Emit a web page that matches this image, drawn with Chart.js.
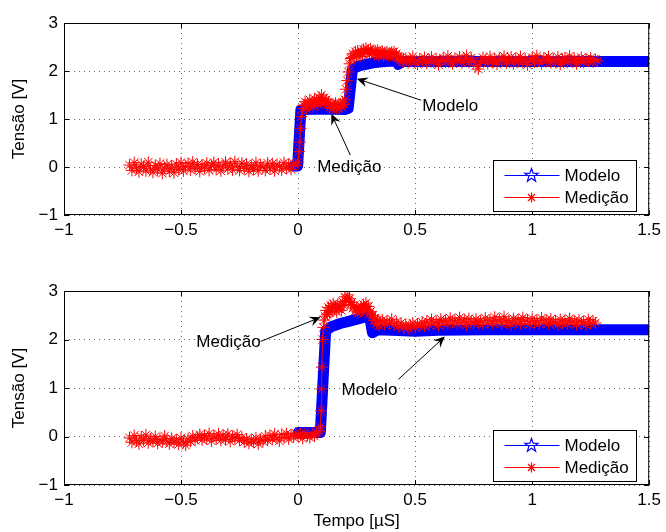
<!DOCTYPE html>
<html>
<head>
<meta charset="utf-8">
<script src="https://cdn.jsdelivr.net/npm/chart.js"></script>
<style>
  html, body { margin: 0; padding: 0; background: #fff; }
  #quadro { position: relative; width: 666px; height: 532px; }
  canvas { position: absolute; left: 0; }
  #topo { top: 0; }
  #baixo { top: 266px; }
</style>
</head>
<body>
<div id="quadro">
  <canvas id="topo" width="666" height="266" style="width:666px;height:266px"></canvas>
  <canvas id="baixo" width="666" height="266" style="width:666px;height:266px"></canvas>
</div>
<script>
// eixos
const ticksX = [-1, -0.5, 0, 0.5, 1, 1.5];
const ticksY = [-1, 0, 1, 2, 3];

// grafico de cima - modelo (azul)
const topoModeloX = [-0.02, -0.002, 0.012, 0.03, 0.10, 0.20, 0.214, 0.232, 0.25, 0.28, 0.32, 0.36, 0.41, 0.418, 0.428, 0.45, 0.6, 0.8, 1.0, 1.2, 1.5];
const topoModeloY = [0.02, 0.02, 1.19, 1.20, 1.21, 1.20, 1.22, 2.03, 2.09, 2.13, 2.17, 2.19, 2.21, 2.21, 2.14, 2.20, 2.20, 2.20, 2.20, 2.20, 2.20];

// grafico de cima - medicao (vermelho)
const topoMedicaoX = [
  -0.72,-0.71,-0.70,-0.69,-0.68,-0.67,-0.66,-0.65,-0.64,-0.63,
  -0.62,-0.61,-0.60,-0.59,-0.58,-0.57,-0.56,-0.55,-0.54,-0.53,
  -0.52,-0.51,-0.50,-0.49,-0.48,-0.47,-0.46,-0.45,-0.44,-0.43,
  -0.42,-0.41,-0.40,-0.39,-0.38,-0.37,-0.36,-0.35,-0.34,-0.33,
  -0.32,-0.31,-0.30,-0.29,-0.28,-0.27,-0.26,-0.25,-0.24,-0.23,
  -0.22,-0.21,-0.20,-0.19,-0.18,-0.17,-0.16,-0.15,-0.14,-0.13,
  -0.12,-0.11,-0.10,-0.09,-0.08,-0.07,-0.06,-0.05,-0.04,-0.03,
  -0.02,-0.01,
  0.000,0.004,0.007,0.010,0.014,0.020,
  0.025,0.030,0.035,0.040,0.045,0.050,0.055,0.060,0.065,0.070,0.075,0.080,0.085,0.090,0.095,0.100,0.105,0.110,
  0.115,0.120,0.125,0.130,0.135,0.140,0.145,0.150,0.155,0.160,0.165,0.170,0.175,0.180,0.185,0.190,0.195,
  0.200,0.205,0.210,0.215,0.220,0.225,
  0.230,0.235,0.240,0.245,0.250,0.255,0.260,0.265,0.270,0.275,0.280,0.285,0.290,0.295,0.300,0.305,0.310,0.315,
  0.320,0.325,0.330,0.335,0.340,0.345,0.350,0.355,0.360,0.365,0.370,0.375,0.380,0.385,0.390,0.395,0.400,0.405,
  0.410,0.415,0.420,0.425,0.430,0.435,0.440,0.445,0.450,
  0.46,0.47,0.48,0.49,0.50,0.51,0.52,0.53,0.54,0.55,
  0.56,0.57,0.58,0.59,0.60,0.61,0.62,0.63,0.64,0.65,
  0.66,0.67,0.68,0.69,0.70,0.71,0.72,0.73,0.74,0.75,
  0.76,0.77,0.78,0.79,0.80,0.81,0.82,0.83,0.84,0.85,
  0.86,0.87,0.88,0.89,0.90,0.91,0.92,0.93,0.94,0.95,
  0.96,0.97,0.98,0.99,1.00,1.01,1.02,1.03,1.04,1.05,
  1.06,1.07,1.08,1.09,1.10,1.11,1.12,1.13,1.14,1.15,
  1.16,1.17,1.18,1.19,1.20,1.21,1.22,1.23,1.24,1.25,
  1.26,1.27,1.28
];
const topoMedicaoY = [
  0.04,-0.07,0.09,-0.02,-0.10,0.06,0.01,-0.08,0.10,-0.04,
  -0.11,0.03,-0.06,0.07,-0.13,-0.02,0.05,-0.09,0.02,-0.12,
  0.06,-0.05,0.09,-0.08,0.01,0.07,-0.06,0.10,-0.03,0.05,
  -0.09,0.04,-0.02,0.08,-0.07,0.03,0.09,-0.05,0.06,-0.08,
  0.02,0.10,-0.04,0.07,-0.06,0.11,0.01,-0.07,0.08,-0.03,
  0.06,-0.09,0.03,-0.05,0.09,-0.08,0.04,0.00,-0.07,0.08,
  -0.04,0.07,-0.08,0.05,0.01,-0.06,0.09,-0.03,0.06,-0.05,
  0.08,0.03,
  0.10,0.32,0.52,0.80,1.05,1.22,
  1.28,1.36,1.22,1.33,1.27,1.40,1.30,1.35,1.26,1.42,1.33,1.38,1.30,1.45,1.36,1.50,1.38,1.44,
  1.34,1.40,1.30,1.35,1.24,1.31,1.22,1.30,1.25,1.33,1.23,1.29,1.22,1.32,1.26,1.35,1.30,
  1.40,1.62,1.80,1.98,2.15,2.26,
  2.28,2.36,2.30,2.40,2.33,2.42,2.35,2.30,2.41,2.36,2.45,2.38,2.47,2.39,2.44,2.36,2.46,2.38,
  2.42,2.34,2.41,2.36,2.43,2.33,2.39,2.35,2.41,2.32,2.38,2.34,2.40,2.31,2.37,2.33,2.39,2.35,
  2.40,2.32,2.36,2.27,2.30,2.22,2.27,2.20,2.25,
  2.26,2.17,2.24,2.30,2.19,2.14,2.25,2.21,2.28,2.16,
  2.23,2.29,2.18,2.25,2.13,2.22,2.27,2.19,2.31,2.20,
  2.15,2.26,2.22,2.29,2.17,2.24,2.32,2.18,2.27,2.21,
  2.12,2.04,2.20,2.28,2.23,2.16,2.30,2.19,2.25,2.14,
  2.27,2.22,2.31,2.17,2.24,2.29,2.15,2.26,2.20,2.30,
  2.18,2.25,2.13,2.23,2.28,2.19,2.32,2.21,2.16,2.27,
  2.22,2.30,2.17,2.25,2.19,2.29,2.14,2.24,2.27,2.18,
  2.31,2.20,2.26,2.15,2.23,2.28,2.18,2.25,2.21,2.27,
  2.19,2.24,2.21
];

// grafico de baixo - modelo (azul)
const baixoModeloX = [0.00, 0.095, 0.118, 0.14, 0.18, 0.22, 0.26, 0.29, 0.305, 0.318, 0.34, 0.40, 0.50, 0.60, 0.80, 1.00, 1.20, 1.50];
const baixoModeloY = [0.08, 0.08, 2.18, 2.26, 2.33, 2.38, 2.43, 2.47, 2.49, 2.14, 2.20, 2.19, 2.17, 2.19, 2.20, 2.20, 2.20, 2.20];

// grafico de baixo - medicao (vermelho)
const baixoMedicaoX = [
  -0.72,-0.71,-0.70,-0.69,-0.68,-0.67,-0.66,-0.65,-0.64,-0.63,
  -0.62,-0.61,-0.60,-0.59,-0.58,-0.57,-0.56,-0.55,-0.54,-0.53,
  -0.52,-0.51,-0.50,-0.49,-0.48,-0.47,-0.46,-0.45,-0.44,-0.43,
  -0.42,-0.41,-0.40,-0.39,-0.38,-0.37,-0.36,-0.35,-0.34,-0.33,
  -0.32,-0.31,-0.30,-0.29,-0.28,-0.27,-0.26,-0.25,-0.24,-0.23,
  -0.22,-0.21,-0.20,-0.19,-0.18,-0.17,-0.16,-0.15,-0.14,-0.13,
  -0.12,-0.11,-0.10,-0.09,-0.08,-0.07,-0.06,-0.05,-0.04,-0.03,
  -0.02,-0.01,0.00,0.01,0.02,0.03,0.04,0.05,0.06,0.07,
  0.08,
  0.090,0.095,0.098,0.100,0.102,0.105,0.108,0.112,
  0.115,0.120,0.125,0.130,0.135,0.140,0.145,0.150,0.155,0.160,0.165,0.170,0.175,0.180,0.185,0.190,
  0.195,0.200,0.205,0.210,0.215,0.220,0.225,0.230,0.235,0.240,0.245,0.250,0.255,0.260,0.265,0.270,
  0.275,0.280,0.285,0.290,0.295,0.300,0.305,0.310,0.315,0.320,0.325,0.330,0.335,0.340,0.345,0.350,
  0.36,0.37,0.38,0.39,0.40,0.41,0.42,0.43,0.44,0.45,
  0.46,0.47,0.48,0.49,0.50,0.51,0.52,0.53,0.54,0.55,
  0.56,0.57,0.58,0.59,0.60,0.61,0.62,0.63,0.64,0.65,
  0.66,0.67,0.68,0.69,0.70,0.71,0.72,0.73,0.74,0.75,
  0.76,0.77,0.78,0.79,0.80,0.81,0.82,0.83,0.84,0.85,
  0.86,0.87,0.88,0.89,0.90,0.91,0.92,0.93,0.94,0.95,
  0.96,0.97,0.98,0.99,1.00,1.01,1.02,1.03,1.04,1.05,
  1.06,1.07,1.08,1.09,1.10,1.11,1.12,1.13,1.14,1.15,
  1.16,1.17,1.18,1.19,1.20,1.21,1.22,1.23,1.24,1.25,
  1.26,1.27
];
const baixoMedicaoY = [
  -0.03,-0.12,0.02,-0.09,-0.15,-0.01,-0.08,0.03,-0.13,-0.05,
  -0.10,0.00,-0.14,-0.06,-0.11,0.01,-0.09,-0.15,-0.04,-0.12,
  -0.07,-0.16,-0.03,-0.12,-0.18,-0.05,-0.10,0.01,-0.08,-0.02,
  0.04,-0.07,0.02,-0.05,0.06,-0.09,0.01,-0.04,0.05,-0.08,
  0.03,-0.06,0.05,-0.10,0.00,-0.04,0.04,-0.08,-0.02,-0.11,
  -0.05,-0.14,-0.07,-0.12,-0.03,-0.15,-0.06,-0.10,0.01,-0.08,
  0.02,-0.06,0.05,-0.03,-0.09,0.04,-0.02,0.06,-0.05,0.03,
  -0.01,0.07,0.00,0.05,-0.04,0.08,0.02,-0.02,0.06,0.01,
  0.07,
  0.10,0.20,0.53,0.98,1.43,2.00,2.25,2.40,
  2.48,2.60,2.52,2.66,2.55,2.70,2.58,2.74,2.62,2.68,2.57,2.72,2.63,2.69,2.60,2.78,
  2.70,2.88,2.80,2.92,2.79,2.84,2.72,2.77,2.65,2.70,2.59,2.66,2.55,2.63,2.57,2.68,
  2.60,2.72,2.64,2.75,2.62,2.68,2.55,2.58,2.46,2.50,2.39,2.44,2.33,2.40,2.30,2.37,
  2.40,2.31,2.38,2.33,2.42,2.30,2.36,2.27,2.34,2.24,
  2.31,2.22,2.29,2.34,2.25,2.32,2.27,2.36,2.28,2.38,
  2.30,2.41,2.33,2.37,2.29,2.42,2.34,2.39,2.31,2.44,
  2.36,2.40,2.32,2.45,2.35,2.41,2.30,2.43,2.37,2.33,
  2.42,2.35,2.39,2.31,2.44,2.36,2.40,2.33,2.46,2.37,
  2.41,2.32,2.47,2.35,2.39,2.30,2.43,2.36,2.41,2.33,
  2.45,2.37,2.40,2.31,2.43,2.35,2.39,2.32,2.44,2.36,
  2.40,2.33,2.42,2.35,2.38,2.30,2.41,2.34,2.39,2.32,
  2.43,2.35,2.38,2.31,2.40,2.34,2.37,2.30,2.41,2.33,
  2.38,2.34
];

// anotacoes com seta (coordenadas em unidades dos eixos)
const setasTopo = [
  { texto: 'Modelo',  ponta: [0.251, 1.84], cauda: [0.526, 1.39], pos: [0.531, 1.26], alinhar: 'left' },
  { texto: 'Medição', ponta: [0.142, 1.11], cauda: [0.223, 0.25], pos: [0.219, 0.0], alinhar: 'center' }
];
const setasBaixo = [
  { texto: 'Medição', ponta: [0.096, 2.46], cauda: [-0.160, 1.96], pos: [-0.160, 1.95], alinhar: 'right' },
  { texto: 'Modelo',  ponta: [0.627, 2.06], cauda: [0.429, 1.18], pos: [0.305, 0.96], alinhar: 'center' }
];

const FONTE = '"Liberation Sans", Arial, Helvetica, sans-serif';
const AZUL = '#0000ff';
const VERMELHO = '#ff0000';

function rotulo(v) {
  return v < 0 ? '\u2212' + Math.abs(v) : String(v);
}

function pares(xs, ys) {
  return xs.map((x, i) => ({ x: x, y: ys[i] }));
}

function desenharSeta(ctx, x1, y1, x2, y2) {
  const ang = Math.atan2(y2 - y1, x2 - x1);
  const L = 11, W = 5;
  ctx.beginPath();
  ctx.moveTo(x1, y1);
  ctx.lineTo(x2 - Math.cos(ang) * L * 0.6, y2 - Math.sin(ang) * L * 0.6);
  ctx.stroke();
  ctx.save();
  ctx.translate(x2, y2);
  ctx.rotate(ang);
  ctx.beginPath();
  ctx.moveTo(0, 0);
  ctx.lineTo(-L, -W);
  ctx.lineTo(-L * 0.65, 0);
  ctx.lineTo(-L, W);
  ctx.closePath();
  ctx.fill();
  ctx.restore();
}

function estrelaCinco(ctx, cx, cy, r) {
  ctx.beginPath();
  for (let i = 0; i < 10; i++) {
    const rr = i % 2 === 0 ? r : r * 0.4;
    const a = -Math.PI / 2 + i * Math.PI / 5;
    const px = cx + rr * Math.cos(a), py = cy + rr * Math.sin(a);
    if (i === 0) ctx.moveTo(px, py); else ctx.lineTo(px, py);
  }
  ctx.closePath();
  ctx.stroke();
}

function asterisco(ctx, cx, cy, r) {
  ctx.beginPath();
  for (let i = 0; i < 4; i++) {
    const a = i * Math.PI / 4;
    ctx.moveTo(cx - r * Math.cos(a), cy - r * Math.sin(a));
    ctx.lineTo(cx + r * Math.cos(a), cy + r * Math.sin(a));
  }
  ctx.stroke();
}

// moldura, marcas internas, legenda e anotacoes
const moldura = {
  id: 'moldura',
  afterDraw(chart, args, opts) {
    const ctx = chart.ctx;
    const a = chart.chartArea;
    const sx = chart.scales.x, sy = chart.scales.y;
    ctx.save();
    ctx.strokeStyle = '#000';
    ctx.lineWidth = 1;
    ctx.setLineDash([]);
    ctx.strokeRect(a.left + 0.5, a.top + 0.5, a.right - a.left - 1, a.bottom - a.top - 1);

    ctx.beginPath();
    ticksX.forEach(v => {
      const px = Math.round(sx.getPixelForValue(v)) + 0.5;
      ctx.moveTo(px, a.bottom); ctx.lineTo(px, a.bottom - 5);
      ctx.moveTo(px, a.top); ctx.lineTo(px, a.top + 5);
    });
    ticksY.forEach(v => {
      const py = Math.round(sy.getPixelForValue(v)) + 0.5;
      ctx.moveTo(a.left, py); ctx.lineTo(a.left + 5, py);
      ctx.moveTo(a.right, py); ctx.lineTo(a.right - 5, py);
    });
    ctx.stroke();

    // anotacoes
    ctx.fillStyle = '#000';
    ctx.font = '17px ' + FONTE;
    ctx.textBaseline = 'middle';
    (opts.setas || []).forEach(s => {
      desenharSeta(ctx,
        sx.getPixelForValue(s.cauda[0]), sy.getPixelForValue(s.cauda[1]),
        sx.getPixelForValue(s.ponta[0]), sy.getPixelForValue(s.ponta[1]));
      ctx.textAlign = s.alinhar;
      ctx.fillText(s.texto, sx.getPixelForValue(s.pos[0]), sy.getPixelForValue(s.pos[1]));
    });

    // legenda
    const lx = Math.round(a.right - 156) + 0.5;
    const ly = Math.round(a.bottom - 55) + 0.5;
    ctx.fillStyle = '#fff';
    ctx.fillRect(lx, ly, 143, 51);
    ctx.strokeStyle = '#000';
    ctx.strokeRect(lx, ly, 143, 51);
    const linhas = [
      { cor: AZUL, texto: 'Modelo', marca: estrelaCinco, r: 7 },
      { cor: VERMELHO, texto: 'Medição', marca: asterisco, r: 5 }
    ];
    linhas.forEach((l, i) => {
      const y = ly + 15 + i * 22;
      ctx.strokeStyle = l.cor;
      ctx.lineWidth = 1;
      ctx.beginPath();
      ctx.moveTo(lx + 11, y); ctx.lineTo(lx + 66, y);
      ctx.stroke();
      ctx.lineWidth = 1.2;
      l.marca(ctx, lx + 38, y, l.r);
      ctx.fillStyle = '#000';
      ctx.textAlign = 'left';
      ctx.fillText(l.texto, lx + 71, y + 1);
    });
    ctx.restore();
  }
};

function criarGrafico(id, modeloX, modeloY, medicaoX, medicaoY, setas, cfg) {
  return new Chart(document.getElementById(id), {
    type: 'scatter',
    data: {
      datasets: [
        {
          label: 'Medição',
          data: pares(medicaoX, medicaoY),
          showLine: true,
          borderColor: VERMELHO,
          borderWidth: 1,
          pointStyle: 'star',
          pointRadius: 6,
          pointBorderColor: VERMELHO,
          pointBackgroundColor: VERMELHO,
          pointBorderWidth: 1,
          order: 0
        },
        {
          label: 'Modelo',
          data: pares(modeloX, modeloY),
          showLine: true,
          borderColor: AZUL,
          borderWidth: 11,
          borderJoinStyle: 'round',
          borderCapStyle: 'round',
          pointRadius: 0,
          order: 1
        }
      ]
    },
    options: {
      responsive: false,
      animation: false,
      events: [],
      layout: { padding: { top: cfg.topo, right: 14, left: 0, bottom: 0 } },
      plugins: {
        legend: { display: false },
        tooltip: { enabled: false },
        moldura: { setas: setas }
      },
      scales: {
        x: {
          type: 'linear',
          min: -1,
          max: 1.5,
          afterFit: s => { s.height = cfg.alturaX; },
          afterBuildTicks: s => { s.ticks = ticksX.map(v => ({ value: v })); },
          ticks: {
            autoSkip: false,
            maxRotation: 0,
            padding: 5,
            color: '#000',
            font: { family: FONTE, size: 17 },
            callback: v => rotulo(v)
          },
          grid: { drawTicks: false, color: 'rgba(0,0,0,0.6)', lineWidth: 1 },
          border: { display: false, dash: [1, 4] },
          title: {
            display: !!cfg.tituloX,
            text: cfg.tituloX || '',
            color: '#000',
            font: { family: FONTE, size: 17 },
            padding: { top: 0, bottom: 0 }
          }
        },
        y: {
          type: 'linear',
          min: -1,
          max: 3,
          afterFit: s => { s.width = 64; },
          afterBuildTicks: s => { s.ticks = ticksY.map(v => ({ value: v })); },
          ticks: {
            padding: 6,
            color: '#000',
            font: { family: FONTE, size: 17 },
            callback: v => rotulo(v)
          },
          grid: { drawTicks: false, color: 'rgba(0,0,0,0.6)', lineWidth: 1 },
          border: { display: false, dash: [1, 4] },
          title: {
            display: true,
            text: 'Tensão [V]',
            color: '#000',
            font: { family: FONTE, size: 17 },
            padding: { top: 9, bottom: 0 }
          }
        }
      }
    },
    plugins: [moldura]
  });
}

criarGrafico('topo', topoModeloX, topoModeloY, topoMedicaoX, topoMedicaoY, setasTopo,
  { topo: 23, alturaX: 51 });
criarGrafico('baixo', baixoModeloX, baixoModeloY, baixoMedicaoX, baixoMedicaoY, setasBaixo,
  { topo: 25, alturaX: 47, tituloX: 'Tempo [\u00b5S]' });
</script>
</body>
</html>
